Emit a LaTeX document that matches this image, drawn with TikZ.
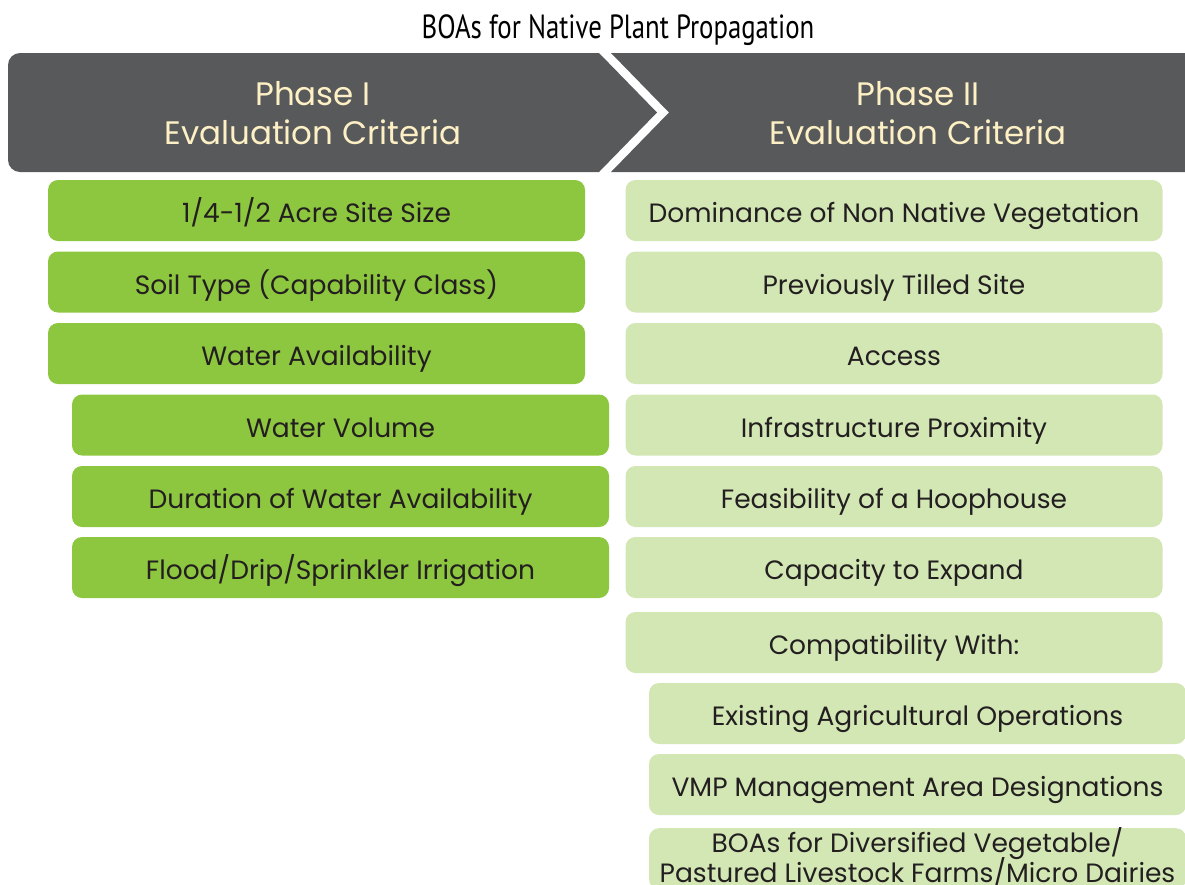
\documentclass[tikz,border=0pt]{standalone}
\usepackage{fontspec}
\setmainfont{Poppins}
\newfontfamily\titlefont{PT Sans}
\definecolor{hdrgray}{HTML}{58595B}
\definecolor{cream}{HTML}{FDF0C4}
\definecolor{leafgreen}{HTML}{8DC63F}
\definecolor{palegreen}{HTML}{D3E7B5}
\definecolor{inkgray}{HTML}{231F20}

\begin{document}
\begin{tikzpicture}[x=1pt,y=-1pt,
  phasetext/.style={text=cream,align=center,font=\fontsize{32.5}{39}\selectfont},
  critbox/.style={rounded corners=10pt,minimum width=537pt,minimum height=61pt,
    inner sep=0pt,text=inkgray,align=center,font=\fontsize{26.5}{27}\selectfont,
    text height=25pt,text depth=1pt},
  phaseone/.style={critbox,fill=leafgreen},
  phasetwo/.style={critbox,fill=palegreen}]
  \useasboundingbox (0,0) rectangle (1185,884);

  % title
  \node (title) at (618,30) {\titlefont\fontsize{33.5}{36}\selectfont\scalebox{0.8}[1]{BOAs for Native Plant Propagation}};

  % header band with chevron
  \fill[hdrgray] (599,53) -- (657,112.5) -- (599,172) [rounded corners=12pt] -- (8,172) -- (8,53) [sharp corners] -- cycle;
  \fill[hdrgray] (611,53) -- (1185,53) -- (1185,172) -- (611,172) -- (669,112.5) -- cycle;
  \node[phasetext] (head1) at (313,113) {Phase I\\Evaluation Criteria};
  \node[phasetext] (head2) at (918,113) {Phase II\\Evaluation Criteria};

  % phase I criteria
  \node[phaseone] (size)  at (316.5,210.5) {1/4-1/2 Acre Site Size};
  \node[phaseone] (soil)  at (316.5,282)   {Soil Type (Capability Class)};
  \node[phaseone] (water) at (316.5,353.5) {Water Availability};
  \node[phaseone] (volume)   at (340.5,425)   {Water Volume};
  \node[phaseone] (duration) at (340.5,496.5) {Duration of Water Availability};
  \node[phaseone] (irrig)    at (340.5,567.5) {Flood/Drip/Sprinkler Irrigation};

  % phase II criteria
  \node[phasetwo] (nonnative) at (894,210.5) {Dominance of Non Native Vegetation};
  \node[phasetwo] (tilled)    at (894,282)   {Previously Tilled Site};
  \node[phasetwo] (access)    at (894,353.5) {Access};
  \node[phasetwo] (infra)     at (894,425)   {Infrastructure Proximity};
  \node[phasetwo] (hoop)      at (894,496.5) {Feasibility of a Hoophouse};
  \node[phasetwo] (expand)    at (894,567.5) {Capacity to Expand};
  \node[phasetwo] (compat)    at (894,642.5) {Compatibility With:};
  \node[phasetwo] (agri)  at (917.5,713.5) {Existing Agricultural Operations};
  \node[phasetwo] (vmp)   at (917.5,784.5) {VMP Management Area Designations};
  \node[phasetwo,anchor=north] (farms) at (917.5,828) {};
  \node[text=inkgray,align=center,font=\fontsize{26.5}{24}\selectfont,anchor=north,inner sep=0pt] (farmstext) at ([yshift=1pt]farms.north) {BOAs for Diversified Vegetable/\\[-3pt]Pastured Livestock Farms/Micro Dairies};
\end{tikzpicture}
\end{document}
